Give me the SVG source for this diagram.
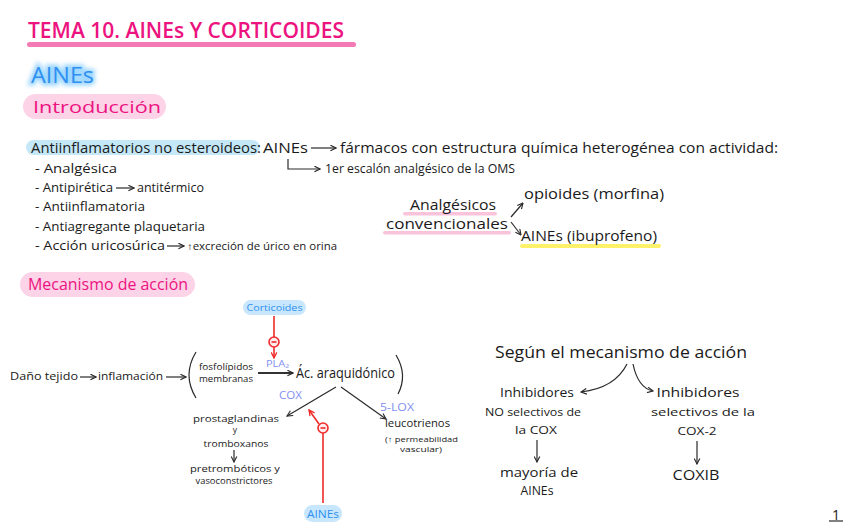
<svg xmlns="http://www.w3.org/2000/svg" width="848" height="530" viewBox="0 0 848 530">
<defs>
<style>
text{font-family:"Open Sans","Liberation Sans",sans-serif;fill:#1a1a1a}
.mag{fill:#ec1380}
.blue{fill:#2e90f0}
.lav{fill:#7f8ff0}
.ln{stroke:#2a2a2a;stroke-width:1.2;fill:none}
.lnb{stroke:#333;stroke-width:2;fill:none}
.red{stroke:#f02a2a;stroke-width:1.6;fill:none}
</style>
<marker id="ah" viewBox="0 0 10 10" refX="9" refY="5" markerWidth="7" markerHeight="7" orient="auto-start-reverse" markerUnits="userSpaceOnUse"><path d="M1,1 L9,5 L1,9" fill="none" stroke="#2a2a2a" stroke-width="1.6"/></marker>
<marker id="ahr" viewBox="0 0 10 10" refX="9" refY="5" markerWidth="7" markerHeight="7" orient="auto" markerUnits="userSpaceOnUse"><path d="M1,1 L9,5 L1,9" fill="none" stroke="#f02a2a" stroke-width="1.8"/></marker>
<filter id="glow" x="-20%" y="-40%" width="140%" height="180%"><feGaussianBlur stdDeviation="2"/></filter>
</defs>
<rect width="848" height="530" fill="#ffffff"/>

<g id="title">
<text x="28" y="38" class="mag" font-size="21" font-weight="600" textLength="316" lengthAdjust="spacingAndGlyphs">TEMA 10. AINEs Y CORTICOIDES</text>
<rect x="27" y="42" width="329" height="5" rx="2.5" fill="#f47ab6"/>
</g>

<g id="aines-heading">
<text x="31" y="83" font-size="22" fill="#9fd7ff" stroke="#9fd7ff" stroke-width="5" filter="url(#glow)" textLength="63" lengthAdjust="spacingAndGlyphs">AINEs</text>
<text x="31" y="83" class="blue" font-size="22" textLength="63" lengthAdjust="spacingAndGlyphs">AINEs</text>
</g>

<g id="introduccion">
<rect x="23" y="94" width="143" height="25" rx="12.5" fill="#fdd3e8"/>
<text x="33" y="113" class="mag" font-size="17" textLength="128" lengthAdjust="spacingAndGlyphs">Introducción</text>
</g>

<g id="intro-text">
<rect x="26" y="140" width="234" height="15" rx="7.5" fill="#c4e8f8"/>
<text x="31" y="153" font-size="14" textLength="230" lengthAdjust="spacingAndGlyphs">Antiinflamatorios no esteroideos:</text>
<text x="263" y="153" font-size="14" textLength="45" lengthAdjust="spacingAndGlyphs">AINEs</text>
<text x="340" y="153" font-size="14" textLength="438" lengthAdjust="spacingAndGlyphs">fármacos con estructura química heterogénea con actividad:</text>
<text x="325" y="173" font-size="12" textLength="190" lengthAdjust="spacingAndGlyphs">1er escalón analgésico de la OMS</text>
<text x="35" y="173" font-size="12" textLength="82" lengthAdjust="spacingAndGlyphs">- Analgésica</text>
<text x="35" y="192" font-size="12" textLength="78" lengthAdjust="spacingAndGlyphs">- Antipirética</text>
<text x="137" y="192" font-size="12" textLength="67" lengthAdjust="spacingAndGlyphs">antitérmico</text>
<text x="35" y="211" font-size="12" textLength="110" lengthAdjust="spacingAndGlyphs">- Antiinflamatoria</text>
<text x="35" y="231" font-size="12" textLength="170" lengthAdjust="spacingAndGlyphs">- Antiagregante plaquetaria</text>
<text x="35" y="250" font-size="12" textLength="130" lengthAdjust="spacingAndGlyphs">- Acción uricosúrica</text>
<text x="187" y="250" font-size="10" textLength="150" lengthAdjust="spacingAndGlyphs">↑excreción de úrico en orina</text>
</g>

<g id="analgesicos">
<rect x="403" y="212" width="94" height="3.5" rx="1.7" fill="#f9c3dc"/>
<rect x="383" y="231" width="128" height="3.5" rx="1.7" fill="#f9c3dc"/>
<text x="410" y="210" font-size="15" textLength="86" lengthAdjust="spacingAndGlyphs">Analgésicos</text>
<text x="386" y="229" font-size="15" textLength="122" lengthAdjust="spacingAndGlyphs">convencionales</text>
</g>
<g id="opioides">
<text x="524" y="199" font-size="14" textLength="140" lengthAdjust="spacingAndGlyphs">opioides (morfina)</text>
</g>
<g id="aines-ibuprofeno">
<rect x="520" y="244" width="141" height="4" rx="2" fill="#fff26a"/>
<text x="521" y="241" font-size="14" textLength="136" lengthAdjust="spacingAndGlyphs">AINEs (ibuprofeno)</text>
</g>

<g id="mecanismo">
<rect x="20" y="272" width="175" height="25" rx="12.5" fill="#fdd3e8"/>
<text x="28" y="290" class="mag" font-size="16" textLength="160" lengthAdjust="spacingAndGlyphs">Mecanismo de acción</text>
</g>

<g id="corticoides">
<rect x="243" y="300" width="63" height="15" rx="7.5" fill="#c8e7fd"/>
<text x="274.5" y="311" class="blue" font-size="9.5" text-anchor="middle" textLength="56" lengthAdjust="spacingAndGlyphs">Corticoides</text>
</g>
<g id="dano">
<text x="10" y="380" font-size="11" textLength="68" lengthAdjust="spacingAndGlyphs">Daño tejido</text>
<text x="98" y="380" font-size="11" textLength="65" lengthAdjust="spacingAndGlyphs">inflamación</text>
</g>
<g id="fosfolipidos">
<path d="M196,352 Q182,375 196,398" class="ln" stroke-width="1.5"/>
<text x="199" y="370" font-size="9.5" textLength="54" lengthAdjust="spacingAndGlyphs">fosfolípidos</text>
<text x="199" y="382" font-size="9.5" textLength="54" lengthAdjust="spacingAndGlyphs">membranas</text>
</g>
<g id="pla2"><text x="266" y="367" class="lav" font-size="9" textLength="23" lengthAdjust="spacingAndGlyphs">PLA₂</text></g>
<g id="araquidonico">
<text x="296" y="378" font-size="14" textLength="99" lengthAdjust="spacingAndGlyphs">Ác. araquidónico</text>
<path d="M396,355 Q408,375 398,394" class="ln" stroke-width="1.5"/>
</g>
<g id="cox"><text x="279" y="399" class="lav" font-size="10" textLength="23" lengthAdjust="spacingAndGlyphs">COX</text></g>
<g id="lox"><text x="380" y="411" class="lav" font-size="10" textLength="34" lengthAdjust="spacingAndGlyphs">5-LOX</text></g>
<g id="prostaglandinas">
<text x="236" y="422" font-size="9.5" text-anchor="middle" textLength="86" lengthAdjust="spacingAndGlyphs">prostaglandinas</text>
<text x="235" y="433" font-size="8.5" text-anchor="middle">y</text>
<text x="236" y="447" font-size="9.5" text-anchor="middle" textLength="65" lengthAdjust="spacingAndGlyphs">tromboxanos</text>
<text x="235" y="472" font-size="9.5" text-anchor="middle" textLength="90" lengthAdjust="spacingAndGlyphs">pretrombóticos y</text>
<text x="234" y="484" font-size="9.5" text-anchor="middle" textLength="77" lengthAdjust="spacingAndGlyphs">vasoconstrictores</text>
</g>
<g id="leucotrienos">
<text x="385" y="427" font-size="11" textLength="65" lengthAdjust="spacingAndGlyphs">leucotrienos</text>
<text x="385" y="442" font-size="7.5" textLength="73" lengthAdjust="spacingAndGlyphs">(↑ permeabilidad</text>
<text x="400" y="452" font-size="7.5" textLength="42" lengthAdjust="spacingAndGlyphs">vascular)</text>
</g>
<g id="aines-inhib">
<rect x="304" y="505" width="38" height="17" rx="8.5" fill="#c8e7fd"/>
<text x="323" y="518" class="blue" font-size="11" text-anchor="middle" textLength="32" lengthAdjust="spacingAndGlyphs">AINEs</text>
</g>

<g id="segun">
<text x="495" y="358" font-size="16" textLength="252" lengthAdjust="spacingAndGlyphs">Según el mecanismo de acción</text>
</g>
<g id="no-selectivos">
<text x="537" y="397" font-size="13" text-anchor="middle" textLength="74" lengthAdjust="spacingAndGlyphs">Inhibidores</text>
<text x="533" y="416" font-size="11.5" text-anchor="middle" textLength="96" lengthAdjust="spacingAndGlyphs">NO selectivos de</text>
<text x="536" y="434" font-size="11.5" text-anchor="middle" textLength="42" lengthAdjust="spacingAndGlyphs">la COX</text>
</g>
<g id="mayoria">
<text x="539" y="477" font-size="12" text-anchor="middle" textLength="78" lengthAdjust="spacingAndGlyphs">mayoría de</text>
<text x="537" y="495" font-size="12" text-anchor="middle" textLength="33" lengthAdjust="spacingAndGlyphs">AINEs</text>
</g>
<g id="selectivos">
<text x="698" y="397" font-size="13" text-anchor="middle" textLength="83" lengthAdjust="spacingAndGlyphs">Inhibidores</text>
<text x="703" y="416" font-size="11.5" text-anchor="middle" textLength="104" lengthAdjust="spacingAndGlyphs">selectivos de la</text>
<text x="697" y="435" font-size="11.5" text-anchor="middle" textLength="39" lengthAdjust="spacingAndGlyphs">COX-2</text>
</g>
<g id="coxib"><text x="696" y="480" font-size="15" text-anchor="middle" textLength="47" lengthAdjust="spacingAndGlyphs">COXIB</text></g>
<g id="page"><text x="836" y="520" font-size="14" text-anchor="middle">1</text><line x1="829" y1="521" x2="843" y2="521" class="ln"/></g>

<g id="connectors">
<line x1="311" y1="148" x2="336" y2="148" class="ln" marker-end="url(#ah)"/>
<polyline points="288,159 288,169 320,169" class="ln" marker-end="url(#ah)"/>
<line x1="116" y1="188" x2="134" y2="188" class="ln" marker-end="url(#ah)"/>
<line x1="167" y1="246" x2="184" y2="246" class="ln" marker-end="url(#ah)"/>
<line x1="511" y1="217" x2="523" y2="203" class="ln" marker-end="url(#ah)"/>
<line x1="511" y1="222" x2="521" y2="235" class="ln" marker-end="url(#ah)"/>
<line x1="80" y1="377" x2="96" y2="377" class="ln" marker-end="url(#ah)"/>
<line x1="166" y1="377" x2="186" y2="377" class="ln" marker-end="url(#ah)"/>
<line x1="258" y1="373" x2="293" y2="373" class="lnb" marker-end="url(#ah)"/>
<line x1="336" y1="387" x2="287" y2="416" class="ln" marker-end="url(#ah)"/>
<line x1="341" y1="387" x2="386" y2="419" class="ln" marker-end="url(#ah)"/>
<line x1="234" y1="450" x2="234" y2="462" class="ln" marker-end="url(#ah)"/>
<path d="M627,364 Q615,388 581,392" class="ln" marker-end="url(#ah)"/>
<path d="M633,364 Q638,388 653,391" class="ln" marker-end="url(#ah)"/>
<line x1="537" y1="440" x2="537" y2="462" class="ln" marker-end="url(#ah)"/>
<line x1="697" y1="441" x2="697" y2="464" class="ln" marker-end="url(#ah)"/>
<line x1="274" y1="316" x2="274" y2="337" class="red"/>
<circle cx="274" cy="342" r="5" fill="#ffecec" stroke="#f02a2a" stroke-width="1.6"/>
<line x1="271.5" y1="342" x2="276.5" y2="342" class="red"/>
<line x1="274" y1="347" x2="274" y2="358" class="red" marker-end="url(#ahr)"/>
<line x1="323" y1="503" x2="323" y2="433" class="red"/>
<circle cx="323" cy="428" r="5" fill="#ffecec" stroke="#f02a2a" stroke-width="1.6"/>
<line x1="320.5" y1="428" x2="325.5" y2="428" class="red"/>
<line x1="319" y1="424" x2="309" y2="410" class="red" marker-end="url(#ahr)"/>
</g>
</svg>
